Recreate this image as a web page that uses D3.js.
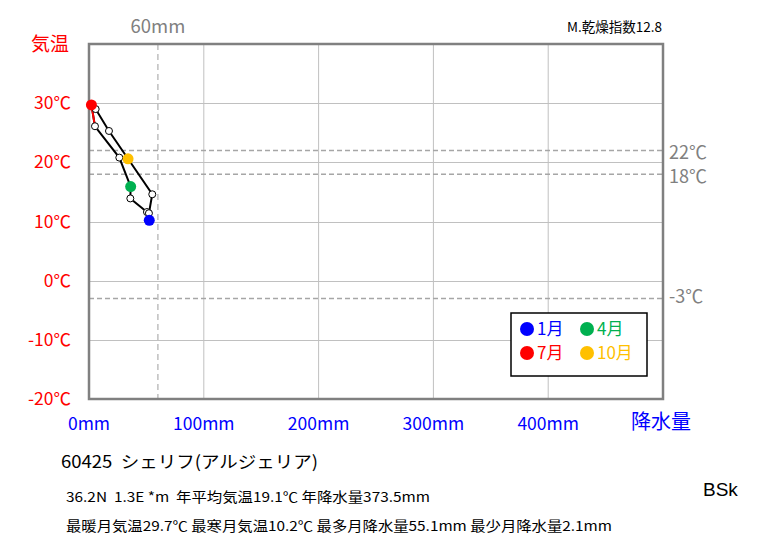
<!DOCTYPE html>
<html><head><meta charset="utf-8">
<script src="https://cdn.jsdelivr.net/npm/d3@7"></script>
<style>body{margin:0;background:#fff}text{font-family:"Noto Sans CJK JP","Noto Sans",sans-serif;white-space:pre}</style>
</head><body><svg id="c" width="763" height="545"></svg>
<script>
const months = ["1月","2月","3月","4月","5月","6月","7月","8月","9月","10月","11月","12月"];
const precip = [52.5, 50.5, 36.0, 36.3, 26.4, 5.2, 2.1, 5.8, 17.4, 34.0, 55.1, 52.2];
const temp = [10.2, 11.6, 13.9, 15.9, 20.8, 26.1, 29.7, 29.0, 25.3, 20.6, 14.6, 11.4];
const yTicks = [-20, -10, 0, 10, 20, 30];
const xTicks = [0, 100, 200, 300, 400];
const refTemps = [22, 18, -3];
const refPrecip = 60;
const legendItems = [{m:0,label:"1月",color:"#0000ff"},{m:3,label:"4月",color:"#00b050"},{m:6,label:"7月",color:"#ff0000"},{m:9,label:"10月",color:"#ffc000"}];

const svg = d3.select("#c");
const x = d3.scaleLinear().domain([0,500]).range([89,663]);
const y = d3.scaleLinear().domain([-20,40]).range([399,44]);

// grid
svg.append("g").selectAll("line").data(xTicks.slice(1)).join("line")
  .attr("x1",d=>x(d)).attr("x2",d=>x(d)).attr("y1",y(40)).attr("y2",y(-20))
  .attr("stroke","#c0c0c0").attr("stroke-width",1);
svg.append("g").selectAll("line").data(yTicks.slice(1)).join("line")
  .attr("x1",x(0)).attr("x2",x(500)).attr("y1",d=>Math.round(y(d))+0.5).attr("y2",d=>Math.round(y(d))+0.5)
  .attr("stroke","#c0c0c0").attr("stroke-width",1);
// reference dashed
svg.append("g").selectAll("line").data(refTemps).join("line")
  .attr("x1",x(0)).attr("x2",x(500)).attr("y1",d=>y(d)).attr("y2",d=>y(d))
  .attr("stroke","#a6a6a6").attr("stroke-width",1.5).attr("stroke-dasharray","5,3");
svg.append("line").attr("x1",x(refPrecip)).attr("x2",x(refPrecip)).attr("y1",y(40)).attr("y2",y(-20))
  .attr("stroke","#bfbfbf").attr("stroke-width",1.5).attr("stroke-dasharray","6,4");
// frame
svg.append("rect").attr("x",x(0)).attr("y",y(40)).attr("width",x(500)-x(0)).attr("height",y(-20)-y(40))
  .attr("fill","none").attr("stroke","#808080").attr("stroke-width",2.5);

// y tick labels
svg.append("g").selectAll("text").data(yTicks).join("text")
  .attr("x",71).attr("y",d=>y(d)).attr("dy","0.35em").attr("text-anchor","end")
  .attr("fill","#ff0000").attr("font-size",17.5).text(d=>d+"℃");
svg.append("text").attr("x",31).attr("y",51).attr("fill","#ff0000").attr("font-size",19).text("気温");
// x tick labels
svg.append("g").selectAll("text").data(xTicks).join("text")
  .attr("x",d=>x(d)).attr("y",424).attr("dy","0.35em").attr("text-anchor","middle")
  .attr("fill","#0000ff").attr("font-size",17.5).text(d=>d+"mm");
svg.append("text").attr("x",631).attr("y",422).attr("dy","0.35em").attr("fill","#0000ff").attr("font-size",20).text("降水量");
// ref labels
svg.append("text").attr("x",x(refPrecip)).attr("y",27).attr("dy","0.35em").attr("text-anchor","middle")
  .attr("fill","#808080").attr("font-size",18.5).text(refPrecip+"mm");
const refLabelY = {"22":153,"18":177,"-3":297};
svg.append("g").selectAll("text").data(refTemps).join("text")
  .attr("x",669).attr("y",d=>refLabelY[d]).attr("dy","0.35em")
  .attr("fill","#808080").attr("font-size",18).text(d=>d+"℃");
svg.append("text").attr("x",662).attr("y",27).attr("dy","0.35em").attr("text-anchor","end")
  .attr("fill","#000").attr("font-size",13.5).text("M.乾燥指数12.8");

// line
const pts = months.map((m,i)=>({i,p:precip[i],t:temp[i]}));
const closed = pts.concat([pts[0]]);
svg.append("path").datum(closed)
  .attr("d",d3.line().x(d=>x(d.p)).y(d=>y(d.t)))
  .attr("fill","none").attr("stroke","#000").attr("stroke-width",2);
// red segment Jun-Jul
svg.append("path").datum([pts[5],pts[6]])
  .attr("d",d3.line().x(d=>x(d.p)).y(d=>y(d.t)))
  .attr("fill","none").attr("stroke","#ff0000").attr("stroke-width",2);
const colorOf = {}; legendItems.forEach(l=>colorOf[l.m]=l.color);
const whites = pts.filter(d=>colorOf[d.i]===undefined);
svg.append("g").selectAll("circle").data(whites).join("circle")
  .attr("cx",d=>x(d.p)).attr("cy",d=>y(d.t)).attr("r",3.5)
  .attr("fill","#fff").attr("stroke","#000").attr("stroke-width",1);
const cols = pts.filter(d=>colorOf[d.i]!==undefined);
svg.append("g").selectAll("circle").data(cols).join("circle")
  .attr("cx",d=>x(d.p)).attr("cy",d=>y(d.t)).attr("r",5.5)
  .attr("fill",d=>colorOf[d.i]);

// legend
svg.append("rect").attr("x",511).attr("y",313).attr("width",136).attr("height",63)
  .attr("fill","#fff").attr("stroke","#000").attr("stroke-width",1.5);
const lg = svg.append("g").selectAll("g").data(legendItems).join("g")
  .attr("transform",(d,k)=>`translate(${527+(k%2)*60},${329+Math.floor(k/2)*24})`);
lg.append("circle").attr("r",7).attr("fill",d=>d.color);
lg.append("text").attr("x",10).attr("dy","0.35em").attr("font-size",17).attr("fill",d=>d.color).text(d=>d.label);

// bottom info
svg.append("text").attr("x",61).attr("y",462).attr("dy","0.35em").attr("font-size",17)
  .attr("textLength",257).attr("lengthAdjust","spacingAndGlyphs").attr("fill","#000").text("60425  シェリフ(アルジェリア)");
svg.append("text").attr("x",66).attr("y",497).attr("dy","0.35em").attr("font-size",13.5)
  .attr("textLength",364).attr("lengthAdjust","spacingAndGlyphs").attr("fill","#000").text("36.2N  1.3E *m  年平均気温19.1℃ 年降水量373.5mm");
svg.append("text").attr("x",66).attr("y",526).attr("dy","0.35em").attr("font-size",13.5)
  .attr("textLength",546).attr("lengthAdjust","spacingAndGlyphs").attr("fill","#000").text("最暖月気温29.7℃ 最寒月気温10.2℃ 最多月降水量55.1mm 最少月降水量2.1mm");
svg.append("text").attr("x",703).attr("y",489).attr("dy","0.35em").attr("font-size",19).attr("fill","#000")
  .style("font-family","'Liberation Sans',Arial,sans-serif").text("BSk");
</script></body></html>
